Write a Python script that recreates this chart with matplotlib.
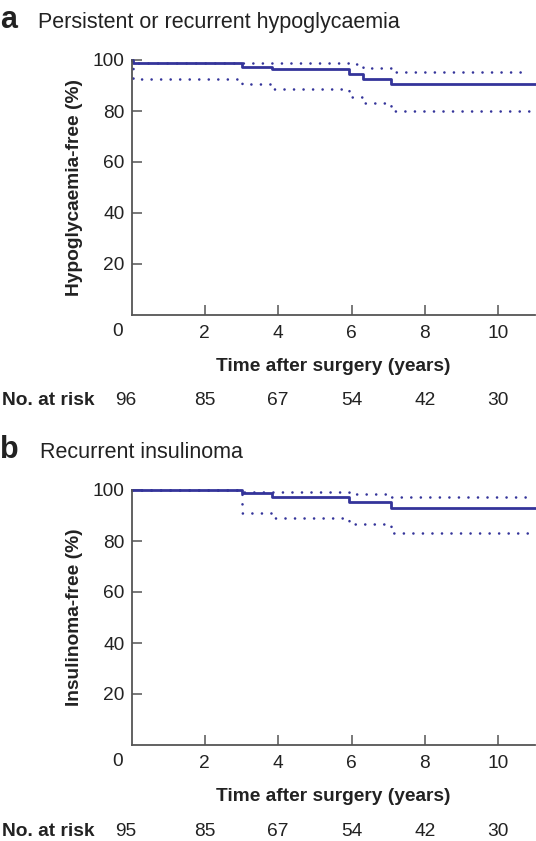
"""
Kaplan-Meier style curves: hypoglycaemia-free and insulinoma-free after surgery
"""
import matplotlib
matplotlib.use('Agg')
import matplotlib.pyplot as plt
from matplotlib.transforms import blended_transform_factory

# panel a - persistent or recurrent hypoglycaemia
t_a = [0, 0.05, 3.0, 3.83, 5.92, 6.32, 7.08, 11.0]
surv_a = [100, 98.9, 97.4, 96.3, 94.5, 92.6, 90.6, 90.6]
t_up_a = [0, 0.05, 3.0, 5.92, 6.32, 7.08, 10.7]
up_a = [100, 98.9, 98.9, 98.3, 96.7, 95.4, 95.4]
t_lo_a = [0, 0.05, 3.0, 3.83, 5.92, 6.32, 7.08, 10.9]
lo_a = [100, 92.6, 90.6, 88.5, 85.6, 83.0, 80.1, 80.1]

# panel b - recurrent insulinoma
t_b = [0, 3.0, 3.83, 5.92, 7.08, 11.0]
surv_b = [100, 98.7, 97.1, 95.1, 93.0, 93.0]
t_up_b = [0, 3.0, 5.92, 7.08, 10.75]
up_b = [100, 99.1, 98.4, 97.4, 97.4]
t_lo_b = [0, 3.0, 3.83, 5.92, 7.08, 10.9]
lo_b = [100, 91.0, 89.1, 86.5, 83.2, 83.2]

risk_times = [-0.17, 2, 4, 6, 8, 10]
risk_a = [96, 85, 67, 54, 42, 30]
risk_b = [95, 85, 67, 54, 42, 30]

xticks = [2, 4, 6, 8, 10]
yticks = [20, 40, 60, 80, 100]

BLUE = '#34349a'
AXC = '#555555'
TXT = '#222222'
FS = 13.8

plt.rcParams['font.family'] = ['Liberation Sans', 'DejaVu Sans']

W, H = 536, 841
fig = plt.figure(figsize=(W / 100, H / 100), dpi=100)


def px(x, y):
    return x / W, 1 - y / H


def draw_panel(rect, t, s, tu, u, tl, l, ylabel, risk, risk_y):
    ax = fig.add_axes(rect)
    dot = dict(color=BLUE, lw=1.9, linestyle=(0, (0.01, 3.6)),
               dash_capstyle='round', where='post', clip_on=False)
    ax.step(tu, u, **dot)
    ax.step(tl, l, **dot)
    ax.step(t, s, color=BLUE, lw=2.0, where='post', clip_on=False)

    ax.set_xlim(0, 11)
    ax.set_ylim(0, 100)
    for side in ['top', 'right']:
        ax.spines[side].set_visible(False)
    for side in ['left', 'bottom']:
        ax.spines[side].set_color(AXC)
        ax.spines[side].set_linewidth(1.3)
    ax.set_xticks(xticks)
    ax.set_yticks(yticks)
    ax.tick_params(direction='in', length=7, width=1.1, color=AXC,
                   labelsize=FS, labelcolor=TXT)
    ax.tick_params(axis='y', pad=5)
    ax.tick_params(axis='x', pad=7)
    ax.annotate('0', xy=(0, 0), xytext=(-10, -12), textcoords='offset points',
                ha='center', va='center', fontsize=FS, color=TXT)

    ax.set_ylabel(ylabel, fontsize=FS, fontweight='bold', color=TXT)
    ax.yaxis.set_label_coords(-0.121, 0.5)
    ax.set_xlabel('Time after surgery (years)', fontsize=FS,
                  fontweight='bold', color=TXT)
    ax.xaxis.set_label_coords(0.5, -0.168)

    # numbers at risk
    trans = blended_transform_factory(ax.transData, fig.transFigure)
    for tt, n in zip(risk_times, risk):
        ax.text(tt, 1 - risk_y / H, str(n), transform=trans, ha='center',
                va='center', fontsize=FS, color=TXT)
    fig.text(*px(2, risk_y), 'No. at risk', fontsize=FS, fontweight='bold',
             color=TXT, ha='left', va='center')
    return ax


ax_a = draw_panel([131.5 / W, 1 - 315 / H, 403.5 / W, 255 / H],
                  t_a, surv_a, t_up_a, up_a, t_lo_a, lo_a,
                  'Hypoglycaemia-free (%)', risk_a, 400)
ax_b = draw_panel([131.5 / W, 1 - 745 / H, 403.5 / W, 255 / H],
                  t_b, surv_b, t_up_b, up_b, t_lo_b, lo_b,
                  'Insulinoma-free (%)', risk_b, 831)

# panel letters and titles
fig.text(*px(0, 28), 'a', fontsize=22, fontweight='bold', color=TXT,
         ha='left', va='baseline')
fig.text(*px(38, 28), 'Persistent or recurrent hypoglycaemia', fontsize=15.5,
         color=TXT, ha='left', va='baseline')
fig.text(*px(0, 458), 'b', fontsize=22, fontweight='bold', color=TXT,
         ha='left', va='baseline')
fig.text(*px(40, 458), 'Recurrent insulinoma', fontsize=15.5,
         color=TXT, ha='left', va='baseline')

fig.savefig('out.png', dpi=100)
plt.close(fig)
